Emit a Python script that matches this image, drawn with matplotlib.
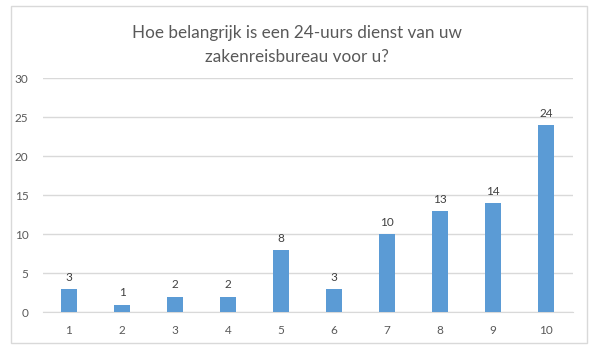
import matplotlib.pyplot as plt
from matplotlib.patches import Rectangle

categories = ['1', '2', '3', '4', '5', '6', '7', '8', '9', '10']
counts = [3, 1, 2, 2, 8, 3, 10, 13, 14, 24]
y_ticks = [0, 5, 10, 15, 20, 25, 30]
title = 'Hoe belangrijk is een 24-uurs dienst van uw\nzakenreisbureau voor u?'

W, H = 593, 351
fig = plt.figure(figsize=(W / 100, H / 100), dpi=100)
plt.rcParams['font.family'] = ['Lato', 'DejaVu Sans']

# outer chart border
fig.patches.append(Rectangle((11 / W, 1 - 343 / H), 576 / W, 337 / H,
                             transform=fig.transFigure, fill=False,
                             edgecolor='#d9d9d9', linewidth=1))

ax = fig.add_axes([42.5 / W, 1 - 312.3 / H, 530 / W, 234 / H])
x = range(len(categories))
bars = ax.bar(x, counts, width=0.31, color='#5b9bd5', zorder=3)

for xi, v in zip(x, counts):
    ax.text(xi, v + 0.8, str(v), ha='center', va='bottom',
            fontsize=8.5, color='#404040')

ax.set_xlim(-0.5, len(categories) - 0.5)
ax.set_ylim(0, 30)
ax.set_yticks(y_ticks)
ax.set_xticks(list(x))
ax.set_xticklabels(categories)
ax.tick_params(axis='both', length=0, labelsize=8.5, labelcolor='#595959')
ax.tick_params(axis='x', pad=9)
ax.tick_params(axis='y', pad=10)
ax.grid(axis='y', color='#d9d9d9', linewidth=1, zorder=0)
for side in ['top', 'right', 'left']:
    ax.spines[side].set_visible(False)
ax.spines['bottom'].set_color('#d9d9d9')

fig.text(0.5, 1 - 45 / H, title, ha='center', va='center',
         fontsize=12.3, color='#595959', linespacing=1.6)

fig.savefig('out.png', dpi=100)
